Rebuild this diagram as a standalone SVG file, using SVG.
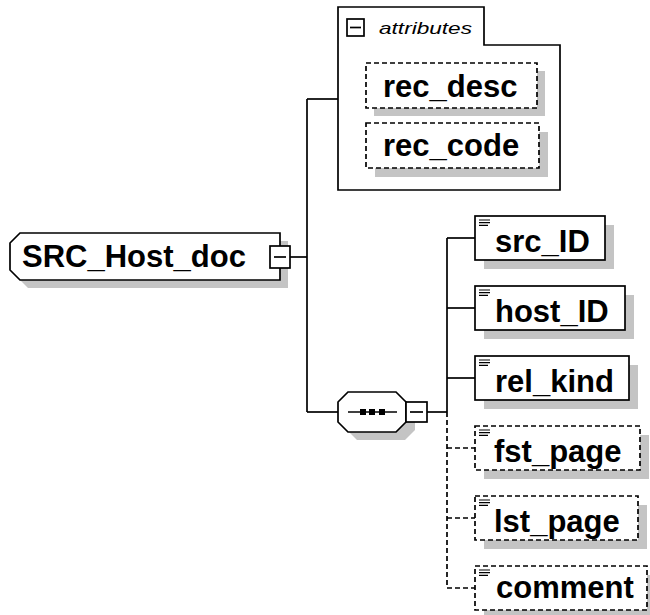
<svg xmlns="http://www.w3.org/2000/svg" width="650" height="615" viewBox="0 0 650 615">
<style>
.bg{fill:#ffffff}
.sh{fill:#c4c4c4;stroke:none}
.box{fill:#ffffff;stroke:#000000;stroke-width:1.7}
.dbox{fill:#ffffff;stroke:#000000;stroke-width:1.7;stroke-dasharray:5,3}
.ln{fill:none;stroke:#000000;stroke-width:1.7}
.dln{fill:none;stroke:#000000;stroke-width:1.7;stroke-dasharray:5,3}
.ic{fill:none;stroke:#000000;stroke-width:1.2}
.lbl{font-family:"Liberation Sans",Arial,sans-serif;font-weight:bold;font-size:31px;fill:#000000}
.it{font-family:"Liberation Sans",Arial,sans-serif;font-style:italic;font-size:17px;fill:#000000}
</style>
<rect class="bg" x="0" y="0" width="650" height="615"/>
<g id="connectors">
<line class="ln" x1="290" y1="257" x2="307" y2="257"/>
<line class="ln" x1="307" y1="99" x2="307" y2="412"/>
<line class="ln" x1="307" y1="99" x2="338" y2="99"/>
<line class="ln" x1="307" y1="412" x2="338" y2="412"/>
<line class="ln" x1="427" y1="412" x2="447" y2="412"/>
<line class="ln" x1="447" y1="238" x2="447" y2="412"/>
<line class="dln" x1="447" y1="412" x2="447" y2="588"/>
<line class="ln" x1="447" y1="238" x2="475" y2="238"/>
<line class="ln" x1="447" y1="308" x2="475" y2="308"/>
<line class="ln" x1="447" y1="378" x2="475" y2="378"/>
<line class="dln" x1="447" y1="448" x2="475" y2="448"/>
<line class="dln" x1="447" y1="518" x2="475" y2="518"/>
<line class="dln" x1="447" y1="588" x2="475" y2="588"/>
</g>
<g id="root">
<path class="sh" d="M28,241 H288 V288 H28 L18,278 V251 Z"/>
<path class="box" d="M20,233 H280 V280 H20 L10,270 V243 Z"/>
<text class="lbl" x="22" y="267">SRC_Host_doc</text>
<rect class="box" x="270" y="246" width="20" height="22"/>
<line class="ln" x1="274" y1="257" x2="286" y2="257"/>
</g>
<g id="attributes">
<path class="ln" d="M338,7 H484 V45 H560 V190 H338 Z"/>
<rect class="box" x="347" y="19" width="17" height="17"/>
<line class="ln" x1="350" y1="27.5" x2="361" y2="27.5"/>
<text class="it" x="379" y="34" textLength="93" lengthAdjust="spacingAndGlyphs">attributes</text>
</g>
<g id="rec_desc">
<rect class="sh" x="374" y="71" width="171" height="45"/>
<rect class="dbox" x="366" y="63" width="171" height="45"/>
<text class="lbl" x="383" y="97">rec_desc</text>
</g>
<g id="rec_code">
<rect class="sh" x="375" y="132" width="173" height="45"/>
<rect class="dbox" x="366" y="123" width="173" height="45"/>
<text class="lbl" x="383" y="156">rec_code</text>
</g>
<g id="sequence">
<path class="sh" d="M357,400 H405 L415,410 V430 L405,440 H357 L347,430 V410 Z"/>
<path class="box" d="M348,392 H396 L406,402 V422 L396,432 H348 L338,422 V402 Z"/>
<line class="ln" x1="348" y1="412" x2="397" y2="412"/>
<rect x="360" y="409" width="6" height="6" fill="#000"/>
<rect x="369" y="409" width="6" height="6" fill="#000"/>
<rect x="379" y="409" width="6" height="6" fill="#000"/>
<rect class="box" x="406" y="402" width="21" height="20"/>
<line class="ln" x1="410" y1="412" x2="423" y2="412"/>
</g>
<g id="src_ID">
<rect class="sh" x="484" y="225" width="130" height="44"/>
<rect class="box" x="475" y="216" width="130" height="44"/>
<path class="ic" d="M479,220 H490 M479,222.7 H490 M479,225.3 H488"/>
<text class="lbl" x="495" y="252">src_ID</text>
</g>
<g id="host_ID">
<rect class="sh" x="484" y="295" width="150" height="44"/>
<rect class="box" x="475" y="286" width="150" height="44"/>
<path class="ic" d="M479,290 H490 M479,292.7 H490 M479,295.3 H488"/>
<text class="lbl" x="495" y="322">host_ID</text>
</g>
<g id="rel_kind">
<rect class="sh" x="484" y="365" width="154" height="44"/>
<rect class="box" x="475" y="356" width="154" height="44"/>
<path class="ic" d="M479,360 H490 M479,362.7 H490 M479,365.3 H488"/>
<text class="lbl" x="495" y="392">rel_kind</text>
</g>
<g id="fst_page">
<rect class="sh" x="484" y="435" width="165" height="44"/>
<rect class="dbox" x="475" y="426" width="165" height="44"/>
<path class="ic" d="M479,430 H490 M479,432.7 H490 M479,435.3 H488"/>
<text class="lbl" x="494" y="462">fst_page</text>
</g>
<g id="lst_page">
<rect class="sh" x="484" y="505" width="163" height="44"/>
<rect class="dbox" x="475" y="496" width="163" height="44"/>
<path class="ic" d="M479,500 H490 M479,502.7 H490 M479,505.3 H488"/>
<text class="lbl" x="494" y="532">lst_page</text>
</g>
<g id="comment">
<rect class="sh" x="484" y="575" width="172" height="44"/>
<rect class="dbox" x="475" y="566" width="172" height="44"/>
<path class="ic" d="M479,570 H490 M479,572.7 H490 M479,575.3 H488"/>
<text class="lbl" x="496" y="598">comment</text>
</g>
</svg>
